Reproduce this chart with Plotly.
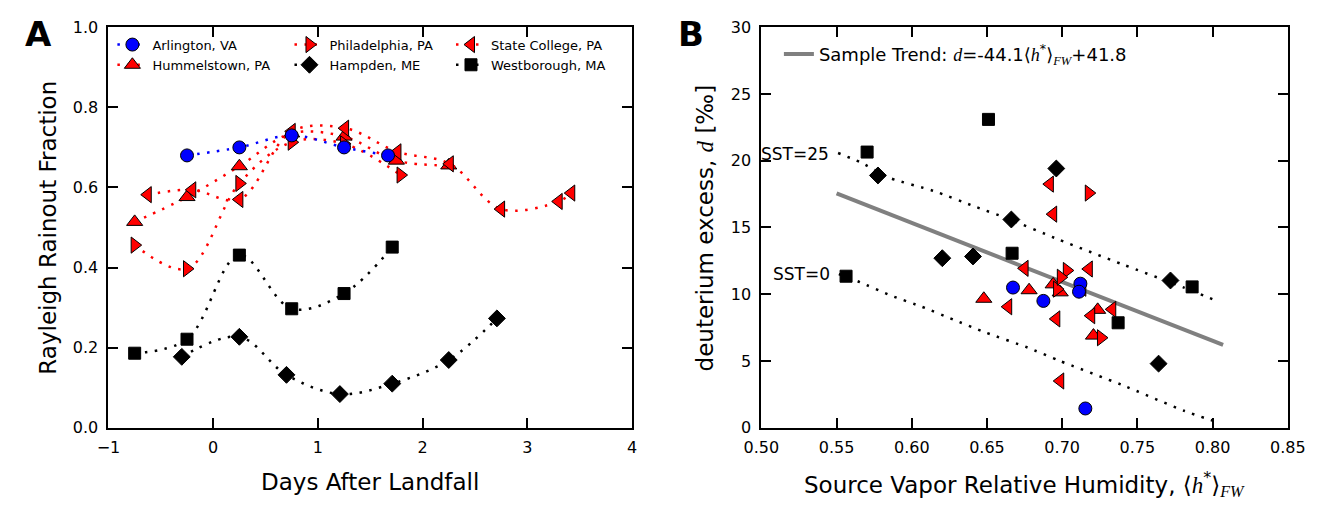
import plotly.graph_objects as go
from plotly.subplots import make_subplots

W, H = 1334, 507

# ---- Panel A: Rayleigh rainout fraction vs days after landfall ----
arl_days = [-0.25, 0.25, 0.75, 1.25, 1.67]
arl_frac = [0.68, 0.70, 0.73, 0.70, 0.68]

hum_days = [-0.75, -0.25, 0.25, 0.75, 1.25, 1.75, 2.25]
hum_frac = [0.514, 0.576, 0.653, 0.735, 0.727, 0.667, 0.655]

phi_days = [-0.75, -0.25, 0.25, 0.75, 1.25, 1.79]
phi_frac = [0.456, 0.397, 0.61, 0.713, 0.709, 0.631]

stc_days = [-0.625, -0.2, 0.25, 0.75, 1.26, 1.76, 2.26, 2.75, 3.30, 3.42]
stc_frac = [0.582, 0.594, 0.570, 0.74, 0.748, 0.689, 0.659, 0.546, 0.565, 0.586]

ham_days = [-0.30, 0.25, 0.70, 1.21, 1.71, 2.25, 2.71]
ham_frac = [0.177, 0.227, 0.132, 0.084, 0.110, 0.169, 0.273]

wes_days = [-0.75, -0.25, 0.25, 0.75, 1.25, 1.71]
wes_frac = [0.186, 0.221, 0.431, 0.297, 0.335, 0.451]

# ---- Panel B: deuterium excess vs source vapor relative humidity ----
arl_h = [0.6673, 0.6875, 0.7121, 0.7112, 0.7154]
arl_d = [10.5, 9.5, 10.79, 10.19, 1.44]

hum_h = [0.678, 0.6479, 0.694, 0.6987, 0.7236, 0.7208]
hum_d = [10.3, 9.66, 10.74, 10.14, 8.83, 6.9]

phi_h = [0.7177, 0.7031, 0.6966, 0.6991, 0.7258]
phi_d = [17.58, 11.78, 10.38, 11.27, 6.74]

stc_h = [0.6918, 0.694, 0.675, 0.7177, 0.6641, 0.7134, 0.6961, 0.7193, 0.7333, 0.6987]
stc_d = [18.25, 16.0, 11.94, 11.89, 9.06, 10.45, 8.15, 8.39, 8.87, 3.5]

ham_h = [0.6961, 0.5775, 0.6662, 0.6203, 0.6407, 0.772, 0.7641]
ham_d = [19.42, 18.9, 15.6, 12.7, 12.83, 11.03, 4.8]

wes_h = [0.651, 0.5703, 0.6667, 0.5563, 0.7864, 0.7372]
wes_d = [23.1, 20.65, 13.07, 11.35, 10.55, 7.86]

trend_h = [0.55, 0.807]
trend_d = [17.55, 6.2]

sst25_h = [0.551, 0.5656, 0.5857, 0.6143, 0.6424, 0.664, 0.6976, 0.7398, 0.781, 0.8026]
sst25_d = [20.58, 19.9, 18.7, 17.75, 16.55, 15.66, 14.1, 12.25, 10.5, 9.5]

sst0_h = [0.5515, 0.5656, 0.5862, 0.6067, 0.6277, 0.6489, 0.6771, 0.6976, 0.7398, 0.781, 0.8026]
sst0_d = [11.51, 10.9, 9.9, 9.06, 8.1, 7.14, 6.0, 5.04, 3.2, 1.27, 0.43]

FONT = "DejaVu Sans"
MATH = "Liberation Serif"
DOTS = "2.5px,7.5px"

# frame edges in pixels
A_L, A_R = 93, 631
B_L, B_R = 764, 1305
TOP, BOT = 19, 435

# name, days, frac, h, d, symbol, fill, line colour, size, legend, legend pos (px)
sites = [
    ("Hummelstown, PA", hum_days, hum_frac, hum_h, hum_d, "triangle-up", "red", "red", 14, "legend2", (97, 58)),
    ("Philadelphia, PA", phi_days, phi_frac, phi_h, phi_d, "triangle-right", "red", "red", 14, "legend3", (279, 37)),
    ("State College, PA", stc_days, stc_frac, stc_h, stc_d, "triangle-left", "red", "red", 14, "legend5", (445, 37)),
    ("Hampden, ME", ham_days, ham_frac, ham_h, ham_d, "diamond", "black", "black", 13, "legend4", (279, 58)),
    ("Westborough, MA", wes_days, wes_frac, wes_h, wes_d, "square", "black", "black", 12, "legend6", (445, 58)),
    ("Arlington, VA", arl_days, arl_frac, arl_h, arl_d, "circle", "blue", "blue", 13, "legend", (97, 37)),
]

fig = make_subplots(rows=1, cols=2)

for name, days, frac, hh, dd, sym, fill, lc, size, leg, pos in sites:
    marker = dict(symbol=sym, size=size, color=fill, line=dict(color="black", width=1))
    fig.add_trace(
        go.Scatter(
            x=days, y=frac, mode="lines+markers", name=name,
            line=dict(color=lc, width=2.5, dash=DOTS, shape="spline", smoothing=1),
            marker=marker, legend=leg,
        ),
        row=1, col=1,
    )

# SST reference curves and trend in panel B
for hh, dd in [(sst25_h, sst25_d), (sst0_h, sst0_d)]:
    fig.add_trace(
        go.Scatter(
            x=hh, y=dd, mode="lines", showlegend=False,
            line=dict(color="black", width=2.5, dash=DOTS, shape="spline", smoothing=0.6),
        ),
        row=1, col=2,
    )

fig.add_trace(
    go.Scatter(
        x=trend_h, y=trend_d, mode="lines", legend="legend7",
        name=("Sample Trend: <span style='font-family:" + MATH + "'><i>d</i></span>=-44.1"
              "⟨<span style='font-family:" + MATH + "'><i>h</i></span><sup>*</sup>⟩"
              "<sub><span style='font-family:" + MATH + "'><i>FW</i></span></sub>+41.8"),
        line=dict(color="#808080", width=4),
    ),
    row=1, col=2,
)

for name, days, frac, hh, dd, sym, fill, lc, size, leg, pos in sites:
    fig.add_trace(
        go.Scatter(
            x=hh, y=dd, mode="markers", showlegend=False,
            marker=dict(symbol=sym, size=size, color=fill, line=dict(color="black", width=1)),
        ),
        row=1, col=2,
    )

# legends: one per entry so the 3x2 grid of panel A can be placed exactly
legends = {}
for name, days, frac, hh, dd, sym, fill, lc, size, leg, pos in sites:
    legends[leg] = dict(
        x=pos[0] / W, y=1 - pos[1] / H, xanchor="left", yanchor="middle",
        bgcolor="rgba(0,0,0,0)", font=dict(family=FONT, size=13, color="black"),
    )
legends["legend7"] = dict(
    x=782 / W, y=1 - 47 / H, xanchor="left", yanchor="middle",
    bgcolor="rgba(0,0,0,0)", font=dict(family=FONT, size=18, color="black"),
)

axis_common = dict(
    showgrid=False, zeroline=False, showline=True, linecolor="black", linewidth=2,
    mirror="ticks", ticks="inside", ticklen=10, tickwidth=1.5, tickcolor="black",
    tickfont=dict(family=FONT, size=16, color="black"),
)

fig.update_xaxes(**axis_common, ticklabelstandoff=4)
fig.update_yaxes(**axis_common, ticklabelstandoff=5)

fig.update_layout(
    width=W, height=H,
    margin=dict(l=0, r=0, t=0, b=0),
    plot_bgcolor="white", paper_bgcolor="white",
    font=dict(family=FONT, color="black"),
    xaxis=dict(domain=[A_L / W, A_R / W], range=[-1, 4], dtick=1, tick0=0),
    yaxis=dict(domain=[1 - BOT / H, 1 - TOP / H], range=[0, 1.0], dtick=0.2, tickformat=".1f"),
    xaxis2=dict(domain=[B_L / W, B_R / W], range=[0.5, 0.85], dtick=0.05, tick0=0.5, tickformat=".2f"),
    yaxis2=dict(domain=[1 - BOT / H, 1 - TOP / H], range=[0, 30], dtick=5),
    **legends,
)

# axis titles, panel letters and SST labels
texts = [
    (31 / W, 1 - 227 / H, "Rayleigh Rainout Fraction", -90, 23),
    ((A_L + A_R) / 2 / W, 1 - 491 / H, "Days After Landfall", 0, 23),
    (707 / W, 1 - 227 / H,
     "deuterium excess, <span style='font-family:" + MATH + "'><i>d</i></span> [‰]", -90, 23),
    ((B_L + B_R) / 2 / W, 1 - 494 / H,
     "Source Vapor Relative Humidity, ⟨<span style='font-family:" + MATH + "'><i>h</i></span><sup>*</sup>⟩"
     "<sub><span style='font-family:" + MATH + "'><i>FW</i></span></sub>", 0, 23),
    (21 / W, 1 - 26 / H, "<b>A</b>", 0, 34),
    (692 / W, 1 - 26 / H, "<b>B</b>", 0, 34),
]
for x, y, t, ang, fs in texts:
    fig.add_annotation(
        x=x, y=y, xref="paper", yref="paper", text=t, showarrow=False, textangle=ang,
        xanchor="center", yanchor="middle", font=dict(family=FONT, size=fs, color="black"),
    )

fig.add_annotation(x=0.5461, y=20.5, xref="x2", yref="y2", text="SST=25", showarrow=False,
                   xanchor="right", yanchor="middle", font=dict(family=FONT, size=17, color="black"))
fig.add_annotation(x=0.5468, y=11.5, xref="x2", yref="y2", text="SST=0", showarrow=False,
                   xanchor="right", yanchor="middle", font=dict(family=FONT, size=17, color="black"))

# page body has a default margin; drop it so the figure sits at the window origin
fig.write_html(
    "out.html",
    config={"displayModeBar": False},
    post_script="document.body.style.margin='0px';",
)
